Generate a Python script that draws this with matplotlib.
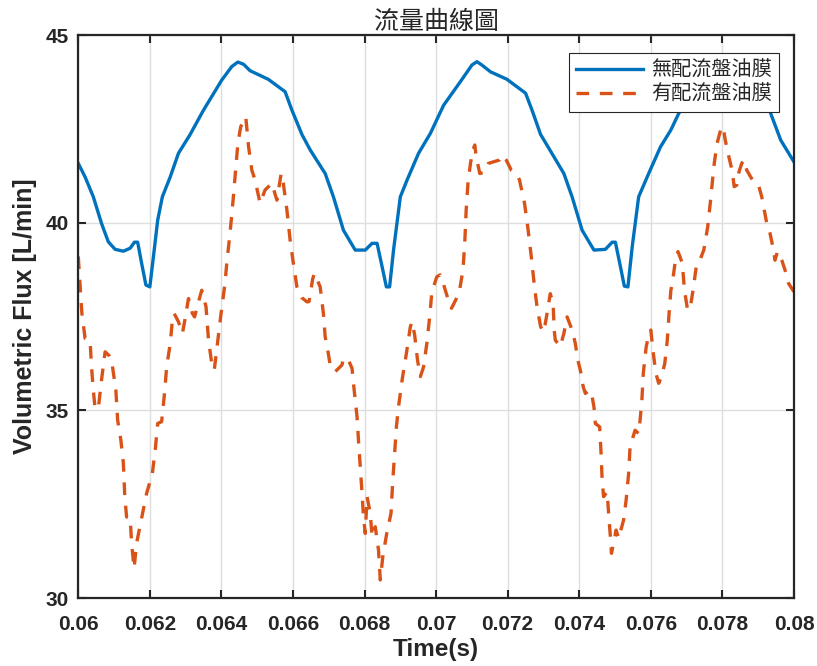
import matplotlib
matplotlib.use("Agg")
import matplotlib.pyplot as plt

# 無配流盤油膜 (blue, solid)
t_blue = [0.06000, 0.06019, 0.06042, 0.06065, 0.06084, 0.06103, 0.06126, 0.06145, 0.06157, 0.06166,
          0.06177, 0.06189, 0.06200, 0.06210, 0.06222, 0.06235, 0.06257, 0.06280, 0.06312, 0.06350,
          0.06401, 0.06429, 0.06446, 0.06462, 0.06480, 0.06531, 0.06578, 0.06597, 0.06625, 0.06648,
          0.06690, 0.06713, 0.06741, 0.06774, 0.06802, 0.06821, 0.06835, 0.06849, 0.06861, 0.06870,
          0.06881, 0.06900, 0.06919, 0.06951, 0.06984, 0.07021, 0.07068, 0.07100, 0.07114, 0.07128,
          0.07152, 0.07198, 0.07250, 0.07268, 0.07292, 0.07329, 0.07357, 0.07380, 0.07408, 0.07441,
          0.07473, 0.07492, 0.07501, 0.07515, 0.07526, 0.07536, 0.07548, 0.07566, 0.07594, 0.07627,
          0.07656, 0.07678, 0.07730, 0.07765, 0.07782, 0.07796, 0.07820, 0.07866, 0.07918, 0.07935,
          0.07963, 0.08000]
q_blue = [41.58, 41.22, 40.69, 39.98, 39.49, 39.29, 39.24, 39.32, 39.48, 39.48,
          38.92, 38.34, 38.29, 39.09, 40.07, 40.69, 41.22, 41.85, 42.34, 43.00,
          43.80, 44.16, 44.28, 44.22, 44.05, 43.82, 43.49, 43.00, 42.35, 41.94,
          41.31, 40.69, 39.80, 39.27, 39.27, 39.45, 39.45, 38.83, 38.29, 38.29,
          39.27, 40.69, 41.14, 41.85, 42.38, 43.13, 43.76, 44.20, 44.29, 44.20,
          44.02, 43.82, 43.45, 43.00, 42.35, 41.76, 41.31, 40.69, 39.80, 39.27,
          39.29, 39.48, 39.48, 38.83, 38.31, 38.29, 39.36, 40.69, 41.31, 42.02,
          42.47, 42.91, 43.70, 44.15, 44.28, 44.20, 44.03, 43.82, 43.45, 42.91,
          42.20, 41.62]

# 有配流盤油膜 (orange, dashed)
t_orange = [0.06000, 0.06010, 0.06019, 0.06033, 0.06037, 0.06042, 0.06047, 0.06056, 0.06065, 0.06075,
            0.06087, 0.06093, 0.06105, 0.06110, 0.06119, 0.06126, 0.06130, 0.06135, 0.06145, 0.06149,
            0.06156, 0.06163, 0.06177, 0.06191, 0.06207, 0.06215, 0.06222, 0.06233, 0.06241, 0.06247,
            0.06257, 0.06263, 0.06268, 0.06280, 0.06291, 0.06298, 0.06308, 0.06319, 0.06325, 0.06336,
            0.06345, 0.06357, 0.06364, 0.06373, 0.06380, 0.06390, 0.06399, 0.06410, 0.06415, 0.06424,
            0.06431, 0.06438, 0.06446, 0.06454, 0.06462, 0.06468, 0.06476, 0.06485, 0.06494, 0.06508,
            0.06522, 0.06541, 0.06555, 0.06567, 0.06573, 0.06583, 0.06592, 0.06601, 0.06611, 0.06625,
            0.06639, 0.06645, 0.06655, 0.06660, 0.06676, 0.06685, 0.06690, 0.06697, 0.06704, 0.06718,
            0.06737, 0.06741, 0.06755, 0.06765, 0.06771, 0.06779, 0.06783, 0.06788, 0.06793, 0.06797,
            0.06802, 0.06807, 0.06816, 0.06821, 0.06830, 0.06839, 0.06844, 0.06851, 0.06862, 0.06874,
            0.06879, 0.06884, 0.06889, 0.06895, 0.06905, 0.06917, 0.06928, 0.06933, 0.06940, 0.06948,
            0.06956, 0.06965, 0.06974, 0.06982, 0.06988, 0.07002, 0.07011, 0.07020, 0.07034, 0.07043,
            0.07052, 0.07064, 0.07075, 0.07080, 0.07084, 0.07089, 0.07096, 0.07103, 0.07108, 0.07112,
            0.07122, 0.07135, 0.07146, 0.07160, 0.07177, 0.07185, 0.07196, 0.07210, 0.07224, 0.07233,
            0.07247, 0.07256, 0.07266, 0.07275, 0.07282, 0.07292, 0.07301, 0.07310, 0.07319, 0.07327,
            0.07330, 0.07333, 0.07347, 0.07357, 0.07366, 0.07380, 0.07389, 0.07396, 0.07403, 0.07411,
            0.07417, 0.07429, 0.07436, 0.07441, 0.07445, 0.07457, 0.07461, 0.07464, 0.07468, 0.07478,
            0.07482, 0.07487, 0.07490, 0.07496, 0.07503, 0.07510, 0.07524, 0.07531, 0.07538, 0.07542,
            0.07556, 0.07566, 0.07570, 0.07575, 0.07579, 0.07587, 0.07593, 0.07600, 0.07607, 0.07614,
            0.07622, 0.07630, 0.07639, 0.07646, 0.07651, 0.07656, 0.07660, 0.07670, 0.07676, 0.07688,
            0.07694, 0.07702, 0.07709, 0.07718, 0.07727, 0.07737, 0.07748, 0.07759, 0.07768, 0.07776,
            0.07785, 0.07795, 0.07802, 0.07808, 0.07818, 0.07827, 0.07833, 0.07840, 0.07845, 0.07854,
            0.07861, 0.07868, 0.07887, 0.07901, 0.07910, 0.07924, 0.07933, 0.07943, 0.07947, 0.07954,
            0.07966, 0.07975, 0.07985, 0.08000]
q_orange = [39.10, 37.60, 36.92, 36.87, 36.16, 35.54, 35.05, 35.05, 35.81, 36.56,
            36.45, 36.34, 35.54, 34.74, 34.21, 33.59, 32.70, 32.16, 32.15, 31.46,
            30.79, 31.46, 32.12, 32.79, 33.32, 33.94, 34.65, 34.70, 35.45, 36.16,
            36.78, 37.41, 37.58, 37.36, 37.05, 37.41, 37.98, 37.58, 37.49, 37.89,
            38.20, 37.76, 36.87, 36.25, 36.07, 36.87, 37.58, 38.38, 38.92, 39.72,
            40.42, 41.22, 42.11, 42.56, 42.69, 42.82, 42.02, 41.40, 41.14, 40.52,
            40.87, 41.05, 40.60, 41.31, 41.05, 40.34, 39.54, 38.92, 38.29, 38.00,
            37.89, 37.90, 38.50, 38.65, 38.29, 37.58, 36.96, 36.61, 36.21, 36.03,
            36.21, 36.39, 36.34, 36.12, 35.54, 34.83, 34.21, 33.50, 32.79, 32.16,
            31.72, 32.70, 32.26, 31.63, 31.90, 31.28, 30.48, 31.10, 31.72, 32.26,
            33.14, 33.85, 34.56, 35.10, 35.81, 36.52, 37.23, 37.36, 37.01, 36.34,
            35.90, 36.16, 36.78, 37.49, 38.15, 38.56, 38.61, 38.38, 37.94, 37.72,
            37.89, 38.11, 38.74, 39.45, 40.34, 41.05, 41.58, 41.94, 42.07, 41.76,
            41.31, 41.35, 41.58, 41.62, 41.67, 41.80, 41.67, 41.40, 41.31, 41.14,
            40.52, 39.89, 39.09, 38.29, 37.76, 37.23, 37.09, 37.58, 38.11, 37.85,
            37.14, 36.87, 36.70, 37.05, 37.49, 37.14, 36.78, 36.34, 36.07, 35.63,
            35.45, 35.54, 35.36, 35.10, 34.65, 34.56, 33.85, 33.14, 32.70, 32.83,
            32.26, 31.63, 31.19, 31.46, 31.81, 31.59, 32.08, 32.61, 33.32, 34.03,
            34.47, 34.38, 34.74, 35.27, 35.99, 36.69, 36.96, 37.14, 36.52, 35.99,
            35.72, 35.90, 36.25, 36.87, 37.58, 38.20, 38.38, 39.09, 39.23, 38.92,
            38.20, 37.72, 37.67, 38.20, 38.83, 39.00, 39.27, 39.89, 40.69, 41.49,
            42.11, 42.47, 42.56, 42.20, 41.76, 41.40, 40.96, 41.00, 41.31, 41.58,
            41.67, 41.40, 41.09, 41.00, 40.69, 39.98, 39.72, 39.27, 39.00, 39.23,
            39.00, 38.74, 38.38, 38.16]

series_labels = ["無配流盤油膜", "有配流盤油膜"]
x_ticks = [0.06, 0.062, 0.064, 0.066, 0.068, 0.07, 0.072, 0.074, 0.076, 0.078, 0.08]
x_tick_labels = ["0.06", "0.062", "0.064", "0.066", "0.068", "0.07", "0.072", "0.074", "0.076", "0.078", "0.08"]
y_ticks = [30, 35, 40, 45]

plt.rcParams["font.family"] = ["Liberation Sans", "DejaVu Sans"]
cjk = ["Noto Sans CJK TC", "DejaVu Sans"]

fig = plt.figure(figsize=(8.17, 6.66), dpi=100)
ax = fig.add_axes([0.0958, 0.1021, 0.8760, 0.8453])

ax.plot(t_blue, q_blue, "-", color="#0072BD", lw=2.4, label=series_labels[0])
ax.plot(t_orange, q_orange, "--", color="#D95319", lw=2.4, dashes=(3.8, 3.2), label=series_labels[1])

ax.set_xlim(0.06, 0.08)
ax.set_ylim(30, 45)
ax.set_xticks(x_ticks)
ax.set_xticklabels(x_tick_labels)
ax.set_yticks(y_ticks)
ax.grid(True, color="#dedede", lw=1.0)
ax.tick_params(direction="in", length=6, width=1.5, top=True, right=True,
               labelsize=15, colors="#262626")
ax.tick_params(axis="x", pad=12)
ax.tick_params(axis="y", pad=7)
for lab in ax.get_xticklabels() + ax.get_yticklabels():
    lab.set_fontweight("bold")
for s in ax.spines.values():
    s.set_color("#262626")
    s.set_linewidth(1.6)

ax.set_xlabel("Time(s)", fontsize=17.5, fontweight="bold", color="#262626", labelpad=3)
ax.set_ylabel("Volumetric Flux [L/min]", fontsize=18, fontweight="bold", color="#262626", labelpad=6)
ax.set_title("流量曲線圖", family=cjk, fontsize=18, fontweight="light", color="#262626", pad=4)

leg = ax.legend(loc="upper right", bbox_to_anchor=(0.9785, 0.9685), borderaxespad=0,
                prop={"family": cjk, "size": 14.5, "weight": "light"}, handlelength=3.3,
                fancybox=False, framealpha=1, edgecolor="#262626", borderpad=0.35,
                labelspacing=0.15, handletextpad=0.4)
leg.get_frame().set_linewidth(0.8)
for txt in leg.get_texts():
    txt.set_color("#262626")

fig.savefig("out.png", dpi=100)
